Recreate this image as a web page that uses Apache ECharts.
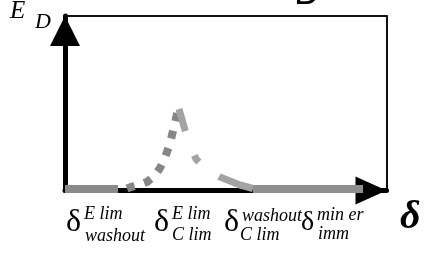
<!DOCTYPE html>
<html>
<head>
<meta charset="UTF-8" />
<title>E_D vs delta</title>
<script src="https://cdn.jsdelivr.net/npm/echarts@6/dist/echarts.min.js"></script>
<style type="text/css">
body{
	margin: 0px;
	background: #fff;
}
#chart{
	width: 425px;
	height: 276px;
}
</style>
</head>
<body>

<div id="chart"></div>

<script type="text/javascript">

// curve pieces, x along delta, y along E_D (arbitrary units)
var flatLeft = [[0, 1.5], [53, 1.5]];
var riseLeft = [[62, 2], [66, 3.5], [74, 5.5], [82, 8.5], [89, 14], [95, 22.5], [99, 30.5],
	[102, 38.5], [105, 47], [107, 55.5], [109.5, 65.5], [111.5, 74.5], [113, 81.5]];
var fallRight = [[114, 81.5], [120, 60.5], [125, 45.5], [131, 31.5], [141, 21.5],
	[155, 13.5], [175, 5.5], [188, 2]];
var flatRight = [[188, 1.5], [298, 1.5]];

// tick labels under the delta axis
var tickBase = ['δ', 'δ', 'δ', 'δ'];
var tickSup = ['E lim', 'E lim', 'washout', 'min er'];
var tickSub = ['washout', 'C lim', 'C lim', 'imm'];

var yName = ['E', 'D'];
var xName = 'δ';
var topMark = 'D';

// pixel layout of the tick labels: [delta x, sup x, sub x, sup y, sub y]
var tickPos = [
	[66, 84, 85, 214, 236],
	[154, 172, 172, 214, 235],
	[224, 242, 240, 216, 235],
	[301, 317, 318, 215, 234]
];

var serif = '"Liberation Serif", "DejaVu Serif", serif';

function txt(s, x, y, size, italic, bold, family){
	return {
		type: 'text',
		silent: true,
		style: {
			text: s, x: x, y: y,
			fontSize: size,
			fontStyle: italic ? 'italic' : 'normal',
			fontWeight: bold ? 'bold' : 'normal',
			fontFamily: family || serif,
			fill: '#000',
			textAlign: 'left',
			textVerticalAlign: 'middle'
		}
	};
}

var graphics = [];
tickBase.forEach(function(b, i){
	var p = tickPos[i];
	var size = i === 3 ? 28 : 32;
	graphics.push(txt(b, p[0], 223, size, false, false));
	graphics.push(txt(tickSup[i], p[1], p[3], 18, true, false));
	graphics.push(txt(tickSub[i], p[2], p[4], 18, true, false));
});
graphics.push(txt(yName[0], 10, 11, 25, true, false));
graphics.push(txt(yName[1], 35, 22, 22, true, false));
graphics.push(txt(xName, 400, 218, 40, true, true));
graphics.push(txt(topMark, 294, -6, 36, false, false, '"Liberation Sans", Arial, sans-serif'));

function hiddenAxis(extra){
	var a = {
		type: 'value',
		axisTick: {show: false},
		axisLabel: {show: false},
		splitLine: {show: false}
	};
	for(var k in extra) a[k] = extra[k];
	return a;
}

var option = {
	animation: false,
	backgroundColor: '#fff',
	grid: {left: 65, right: 38.5, top: 16, bottom: 85.5},
	xAxis: [
		hiddenAxis({
			min: 0, max: 321.5, position: 'bottom',
			axisLine: {show: true, onZero: false, symbol: ['none', 'triangle'],
				symbolSize: [28, 31], symbolOffset: [0, -15.5],
				lineStyle: {color: '#000', width: 5}}
		}),
		hiddenAxis({
			min: 0, max: 321.5, position: 'top',
			axisLine: {show: true, onZero: false, lineStyle: {color: '#111', width: 2}}
		})
	],
	yAxis: [
		hiddenAxis({
			min: 0, max: 174.5, position: 'left',
			axisLine: {show: true, onZero: false, symbol: ['none', 'triangle'],
				symbolSize: [30, 30], symbolOffset: [0, -15],
				lineStyle: {color: '#000', width: 5}}
		}),
		hiddenAxis({
			min: 0, max: 174.5, position: 'right',
			axisLine: {show: true, onZero: false, lineStyle: {color: '#111', width: 2}}
		})
	],
	series: [
		{type: 'line', data: flatLeft, showSymbol: false,
			lineStyle: {color: '#8a8a8a', width: 8, cap: 'butt'}},
		{type: 'line', data: riseLeft, showSymbol: false,
			lineStyle: {color: '#868686', width: 8, cap: 'butt', type: [8, 10]}},
		{type: 'line', data: fallRight, showSymbol: false,
			lineStyle: {color: '#a3a3a3', width: 7, cap: 'butt', type: [23, 26, 8, 25, 300]}},
		{type: 'line', data: flatRight, showSymbol: false,
			lineStyle: {color: '#8f8f8f', width: 8, cap: 'butt'}}
	],
	graphic: graphics
};

var myChart = echarts.init(document.getElementById('chart'));
myChart.setOption(option);

</script>

</body>
</html>
